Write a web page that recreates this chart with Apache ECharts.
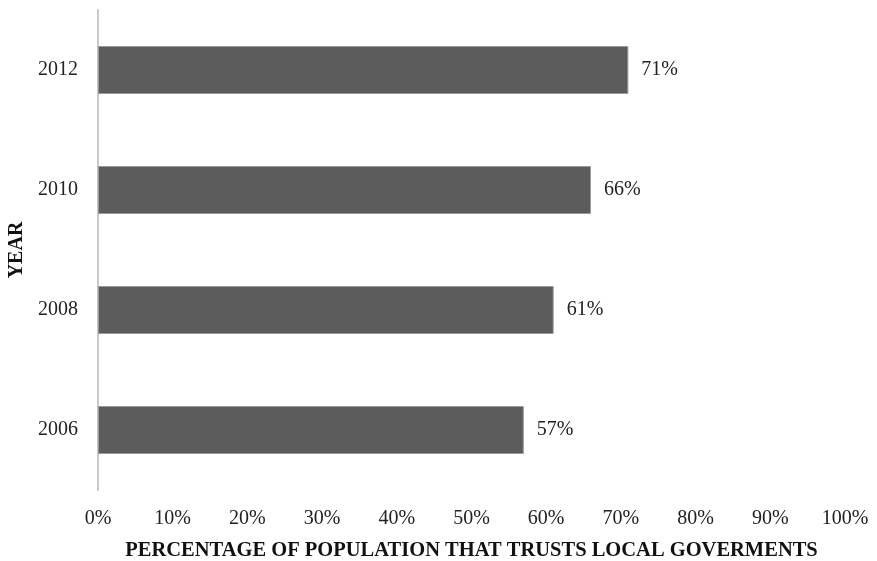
<!DOCTYPE html>
<html>
<head>
<meta charset="utf-8">
<script src="https://cdn.jsdelivr.net/npm/echarts@6/dist/echarts.min.js"></script>
<style>
  html, body { margin: 0; padding: 0; background: #ffffff; }
  #chart { width: 877px; height: 561px; }
</style>
</head>
<body>
<div id="chart"></div>
<script>
// Survey years, bottom to top
const years = ['2006', '2008', '2010', '2012'];
// Share of population that trusts local governments (%)
const trustShare = [57, 61, 66, 71];
// Horizontal axis range and step (%)
const axisMin = 0;
const axisMax = 100;
const axisStep = 10;

const serif = '"Liberation Serif", "DejaVu Serif", serif';

const chart = echarts.init(document.getElementById('chart'));
chart.setOption({
  backgroundColor: '#ffffff',
  animation: false,
  grid: {
    left: 98, right: 32, top: 10, bottom: 71,
    containLabel: false,
    outerBoundsMode: 'none'
  },
  xAxis: {
    type: 'value',
    min: axisMin,
    max: axisMax,
    interval: axisStep,
    axisLine: { show: false },
    axisTick: { show: false },
    splitLine: { show: false },
    axisLabel: {
      formatter: '{value}%',
      fontFamily: serif,
      fontSize: 20,
      color: '#222222',
      margin: 19
    },
    name: 'PERCENTAGE OF POPULATION THAT TRUSTS LOCAL GOVERMENTS',
    nameLocation: 'middle',
    nameGap: 50,
    nameTextStyle: {
      fontFamily: serif,
      fontSize: 20.5,
      fontWeight: 'bold',
      color: '#111111'
    }
  },
  yAxis: {
    type: 'category',
    data: years,
    axisLine: { show: true, lineStyle: { color: '#c9c9c9', width: 2 } },
    axisTick: { show: false },
    axisLabel: {
      fontFamily: serif,
      fontSize: 20,
      color: '#222222',
      margin: 20
    },
    name: 'YEAR',
    nameLocation: 'middle',
    nameGap: 70,
    nameRotate: 90,
    nameTextStyle: {
      fontFamily: serif,
      fontSize: 20,
      fontWeight: 'bold',
      color: '#111111'
    }
  },
  series: [{
    type: 'bar',
    data: trustShare,
    barWidth: 48,
    itemStyle: {
      color: '#5c5c5c',
      borderColor: '#9a9a9a',
      borderWidth: 1
    },
    label: {
      show: true,
      position: 'right',
      distance: 13,
      formatter: '{c}%',
      fontFamily: serif,
      fontSize: 20,
      color: '#222222'
    }
  }]
});
</script>
</body>
</html>
